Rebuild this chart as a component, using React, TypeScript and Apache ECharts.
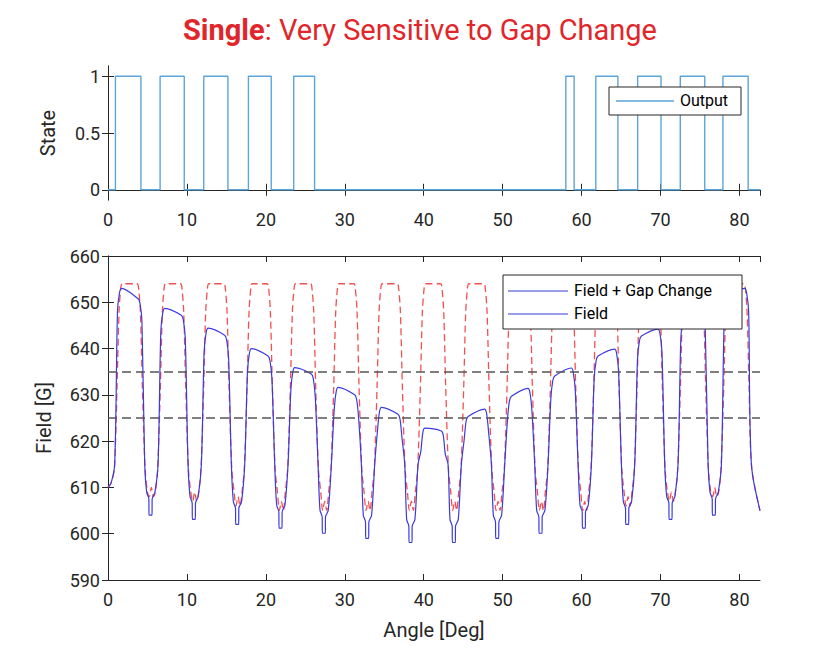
import React, { useEffect, useRef } from "react";
import * as echarts from "echarts";

// top plot: output state switching angles (deg), alternating rise/fall
const stateEdges = [0.94, 4.17, 6.6, 9.66, 12.13, 15.19, 17.79, 20.68, 23.53, 26.17,
  58.0, 59.05, 61.8, 64.6, 67.1, 70.06, 72.5, 75.6, 77.9, 81.1];

// bottom plot: one entry per magnet pole
const poleCenters = [2.75, 8.24, 13.73, 19.22, 24.71, 30.2, 35.69, 41.18, 46.67, 52.16, 57.65, 63.14, 68.63, 74.12, 79.61];
const gapTopStart = [653, 648.7, 644.4, 640, 635.9, 631.6, 627.3, 622.8, 625.3, 629.7, 634.1, 638.4, 642.7, 647.2, 651];
const gapTopEnd = [650.8, 647.2, 642.9, 638.4, 634.5, 630, 625.8, 622.2, 626.9, 631.4, 635.8, 639.9, 644.2, 648.8, 653];
const gapNotch = [604, 603.1, 602, 601.2, 600.1, 599, 598.1, 598.1, 599, 600.1, 601.2, 602, 603.1, 604];
const fieldTop = 654;
const fieldValley = [608, 607, 606, 605, 605, 605, 605, 605, 605, 605, 605, 606, 607, 608];
const thresholds = [635, 625];

const stateData: number[][] = [[0, 0]];
stateEdges.forEach((x, i) => stateData.push([x, i % 2 === 0 ? 1 : 0]));
stateData.push([82.6, 0]);

const fieldData: number[][] = [[0, 610], [0.4, 611]];
const gapData: number[][] = [[0, 610], [0.4, 611]];
poleCenters.forEach((c, k) => {
  fieldData.push([c - 1.95, 614], [c - 1.6, 632], [c - 1.35, 648], [c - 1.1, 653.5], [c - 0.95, fieldTop],
    [c + 0.95, fieldTop], [c + 1.1, 653.5], [c + 1.35, 648], [c + 1.6, 632], [c + 1.95, 614]);
  const a = gapTopStart[k];
  const b = gapTopEnd[k];
  gapData.push([c - 1.9, 615], [c - 1.55, a - 5], [c - 1.3, a - 1], [c - 1.05, a],
    [c + 1.05, b], [c + 1.3, b - 1], [c + 1.55, b - 5], [c + 1.9, 615]);
  if (k < gapNotch.length) {
    const v = c + 2.745;
    const r = fieldValley[k];
    fieldData.push([v - 0.5, 609], [v - 0.25, r], [v, r + 2], [v + 0.25, r], [v + 0.5, 609]);
    const n = gapNotch[k];
    gapData.push([v - 0.6, n + 5], [v - 0.32, n + 3.5], [v - 0.3, n], [v + 0.08, n], [v + 0.1, n + 3.5], [v + 0.45, n + 5]);
  }
});
fieldData.push([82.6, 605]);
gapData.push([82.6, 605]);

const textColor = "#262626";
const font = "Roboto, Arial, sans-serif";
const axisLine = { lineStyle: { color: "#262626", width: 1 } };
const label = { color: textColor, fontSize: 18, fontFamily: font };

const xAxisPair = (gridIndex: number) => [
  {
    type: "value", gridIndex, min: 0, max: 82.6, interval: 10, position: "bottom",
    axisLine, axisTick: { inside: true, length: 6 }, splitLine: { show: false },
    axisLabel: { ...label, margin: 10 },
  },
  {
    type: "value", gridIndex, min: 0, max: 82.6, interval: 10, position: "top",
    axisLine, axisTick: { inside: true, length: 6 }, splitLine: { show: false },
    axisLabel: { show: false },
  },
];

const App: React.FC = () => {
  const ref = useRef<HTMLDivElement>(null);
  useEffect(() => {
    if (!ref.current) return;
    const chart = echarts.init(ref.current, undefined, { renderer: "svg" });
    const legendText = { fill: "#000", fontSize: 16, fontFamily: font };
    chart.setOption({
      animation: false,
      backgroundColor: "#fff",
      title: {
        text: "{b|Single}: Very Sensitive to Gap Change",
        left: "center",
        top: 2,
        textStyle: {
          color: "#e0262a", fontSize: 29, fontWeight: "normal", fontFamily: font,
          rich: { b: { color: "#e0262a", fontSize: 29, fontWeight: "bold", fontFamily: font } },
        },
      },
      grid: [
        { left: 100, right: 72, top: 58, height: 134 },
        { left: 100, right: 72, top: 248, height: 324 },
      ],
      xAxis: [
        ...xAxisPair(0),
        ...xAxisPair(1).map((a, i) => i === 0 ? {
          ...a, name: "Angle [Deg]", nameLocation: "middle", nameGap: 40,
          nameTextStyle: { color: textColor, fontSize: 20, fontFamily: font },
        } : a),
      ],
      yAxis: [
        {
          type: "value", gridIndex: 0, min: -0.09, max: 1.09, position: "left",
          name: "State", nameLocation: "middle", nameGap: 50,
          nameTextStyle: { color: textColor, fontSize: 20, fontFamily: font },
          axisLine, splitLine: { show: false },
          axisTick: { inside: true, length: 6, customValues: [0, 0.5, 1] },
          axisLabel: { ...label, customValues: [0, 0.5, 1] },
        },
        {
          type: "value", gridIndex: 0, min: -0.09, max: 1.09, position: "right",
          axisLine, splitLine: { show: false },
          axisTick: { inside: true, length: 6, customValues: [0, 0.5, 1] },
          axisLabel: { show: false },
        },
        {
          type: "value", gridIndex: 1, min: 590, max: 660, interval: 10, position: "left",
          name: "Field [G]", nameLocation: "middle", nameGap: 54,
          nameTextStyle: { color: textColor, fontSize: 20, fontFamily: font },
          axisLine, splitLine: { show: false },
          axisTick: { inside: true, length: 6 }, axisLabel: label,
        },
        {
          type: "value", gridIndex: 1, min: 590, max: 660, interval: 10, position: "right",
          axisLine, splitLine: { show: false },
          axisTick: { inside: true, length: 6 }, axisLabel: { show: false },
        },
      ],
      series: [
        {
          name: "Output", type: "line", xAxisIndex: 0, yAxisIndex: 0, data: stateData, step: "end",
          showSymbol: false, lineStyle: { color: "#5da5d8", width: 1.4 },
        },
        {
          name: "Field", type: "line", xAxisIndex: 2, yAxisIndex: 2, data: fieldData, smooth: 0.3,
          showSymbol: false, lineStyle: { color: "#f25050", width: 1.3, type: [7, 4] },
          markLine: {
            silent: true, symbol: "none", label: { show: false },
            lineStyle: { color: "#555", width: 1.6, type: [9, 5] },
            data: thresholds.map((y) => ({ yAxis: y })),
          },
        },
        {
          name: "Field + Gap Change", type: "line", xAxisIndex: 2, yAxisIndex: 2, data: gapData, smooth: 0.3,
          showSymbol: false, lineStyle: { color: "#3a3ae0", width: 1.2 },
        },
      ],
      graphic: [
        { type: "rect", shape: { x: 601, y: 79, width: 132, height: 28 }, style: { fill: "#fff", stroke: "#262626", lineWidth: 1 }, z: 100 },
        { type: "line", shape: { x1: 608, y1: 93, x2: 666, y2: 93 }, style: { stroke: "#5da5d8", lineWidth: 1.4 }, z: 101 },
        { type: "text", x: 672, y: 84, style: { text: "Output", ...legendText }, z: 101 },
        { type: "rect", shape: { x: 495, y: 267, width: 239, height: 54 }, style: { fill: "#fff", stroke: "#262626", lineWidth: 1 }, z: 100 },
        { type: "line", shape: { x1: 500, y1: 283, x2: 560, y2: 283 }, style: { stroke: "#3a3ae0", lineWidth: 1.2 }, z: 101 },
        { type: "text", x: 566, y: 274, style: { text: "Field + Gap Change", ...legendText }, z: 101 },
        { type: "line", shape: { x1: 500, y1: 306, x2: 560, y2: 306 }, style: { stroke: "#3a3ae0", lineWidth: 1.2 }, z: 101 },
        { type: "text", x: 566, y: 297, style: { text: "Field", ...legendText }, z: 101 },
      ],
    });
    return () => chart.dispose();
  }, []);
  return <div ref={ref} style={{ width: 824, height: 648 }} />;
};

export default App;
